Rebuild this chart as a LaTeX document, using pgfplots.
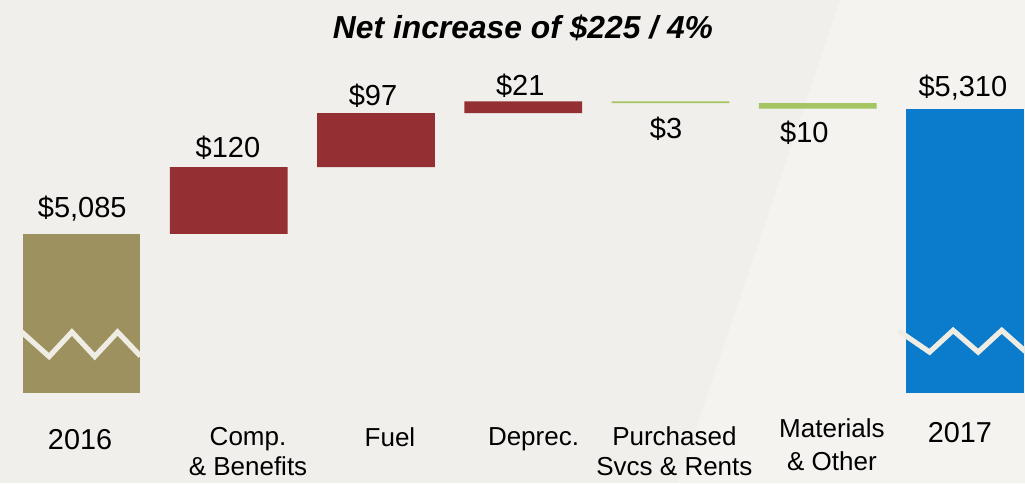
\documentclass[border=0pt]{standalone}
\usepackage{pgfplots}
\pgfplotsset{compat=1.18}
\usepackage{fontspec}
\setmainfont{Liberation Sans}
\definecolor{bgL}{HTML}{F0EFEB}
\definecolor{bgR}{HTML}{F4F3F0}
\definecolor{olive}{HTML}{9C915F}
\definecolor{wred}{HTML}{943033}
\definecolor{wgreen}{HTML}{A5C462}
\definecolor{wblue}{HTML}{0B7BCB}
\definecolor{zig}{HTML}{EEECE3}
\pgfplotsset{frame/.style={
  at={(0,0)}, anchor=south west,
  scale only axis, width=512.5pt, height=241.5pt,
  xmin=-0.5535, xmax=6.408, ymin=4638, ymax=5505,
  hide axis}}
\begin{document}
\begin{tikzpicture}
\fill[bgL] (0,0) rectangle (512.5pt,241.5pt);
\fill[bgR] (420pt,241.5pt) -- (512.5pt,241.5pt) -- (512.5pt,0pt) -- (339pt,0pt) -- cycle;
\begin{axis}[frame, ybar stacked, bar width=0.8]
% invisible base
\addplot[draw=none, fill=none] coordinates {(0,4800) (1,5085) (2,5205) (3,5302) (4,5320) (5,5310) (6,4800)};
% 2016
\addplot[draw=none, fill=olive] coordinates {(0,285) (1,0) (2,0) (3,0) (4,0) (5,0) (6,0)};
% increases
\addplot[draw=none, fill=wred] coordinates {(0,0) (1,120) (2,97) (3,21) (4,0) (5,0) (6,0)};
% decreases
\addplot[draw=none, fill=wgreen] coordinates {(0,0) (1,0) (2,0) (3,0) (4,3) (5,10) (6,0)};
% 2017
\addplot[draw=none, fill=wblue] coordinates {(0,0) (1,0) (2,0) (3,0) (4,0) (5,0) (6,510)};
\end{axis}
\begin{axis}[frame]
% axis-break zigzags
\addplot[zig, line width=2.6pt, mark=none] coordinates {(-0.41,4910) (-0.22,4865) (-0.065,4909) (0.09,4865) (0.245,4909) (0.4,4866)};
\addplot[zig, line width=2.6pt, mark=none] coordinates {(5.55,4911) (5.76,4873) (5.92,4912) (6.09,4873) (6.25,4912) (6.42,4872)};
% value labels
\begin{scope}[every node/.style={anchor=base, inner sep=0pt, font=\fontsize{14.5pt}{17pt}\selectfont}]
\node at (axis cs:0.005,5114) {\$5,085};
\node at (axis cs:0.995,5223) {\$120};
\node at (axis cs:1.98,5315) {\$97};
\node at (axis cs:2.98,5333) {\$21};
\node at (axis cs:3.97,5257) {\$3};
\node at (axis cs:4.91,5250) {\$10};
\node at (axis cs:5.986,5331) {\$5,310};
\end{scope}
% category labels
\begin{scope}[every node/.style={anchor=base, inner sep=0pt, font=\fontsize{13pt}{15pt}\selectfont}]
\node[font=\fontsize{14.4pt}{17pt}\selectfont] at (axis cs:-0.01,4699) {2016};
\node at (axis cs:1.131,4706) {Comp.};
\node at (axis cs:1.131,4652) {\& Benefits};
\node at (axis cs:2.095,4704) {Fuel};
\node at (axis cs:3.07,4706) {Deprec.};
\node at (axis cs:4.027,4706) {Purchased};
\node at (axis cs:4.027,4652) {Svcs \& Rents};
\node at (axis cs:5.097,4719) {Materials};
\node at (axis cs:5.097,4661) {\& Other};
\node[font=\fontsize{14.4pt}{17pt}\selectfont] at (axis cs:5.966,4710) {2017};
\end{scope}
\end{axis}
\node[anchor=base, inner sep=0pt, font=\fontsize{15.9pt}{19pt}\selectfont\bfseries\itshape] at (261.5pt,222pt) {Net increase of \$225 / 4\%};
\pgfresetboundingbox
\useasboundingbox (0,0) rectangle (512.5pt,241.5pt);
\end{tikzpicture}
\end{document}
